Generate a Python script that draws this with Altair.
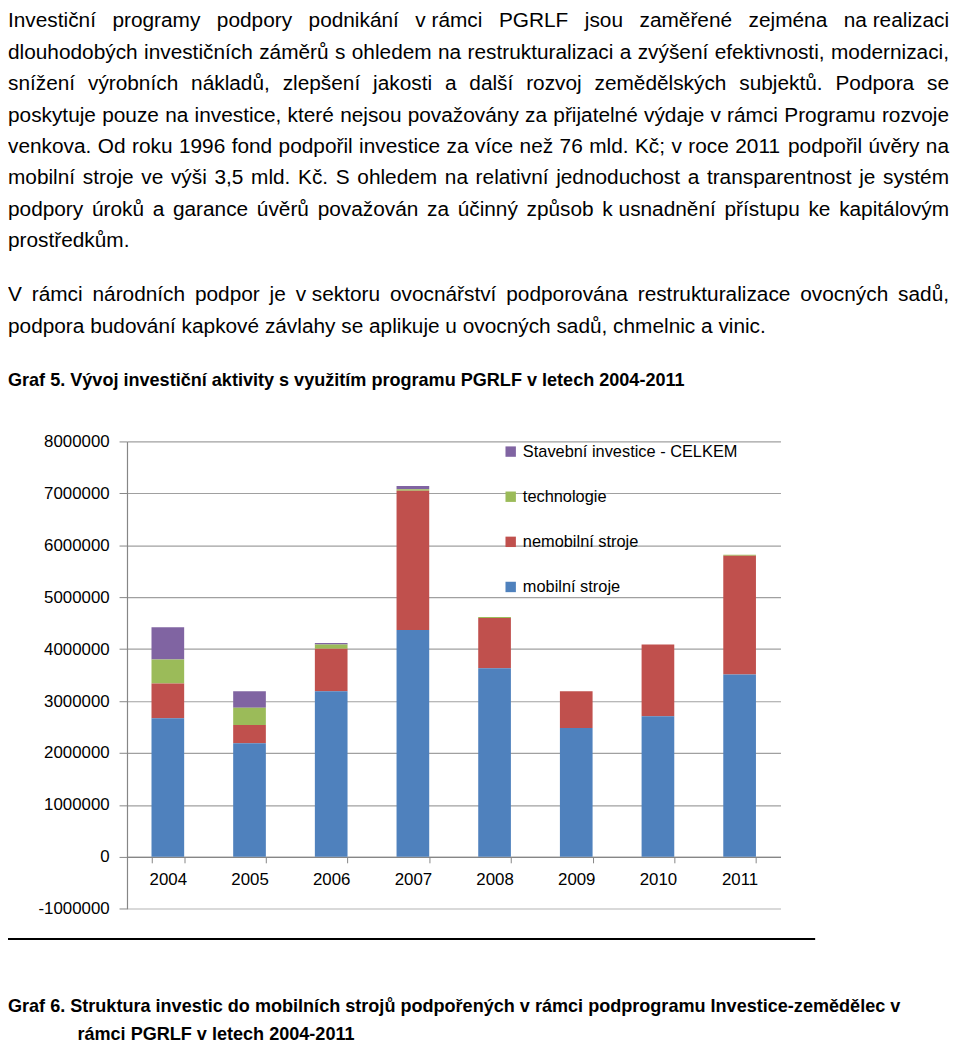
import unicodedata
import altair as alt
import pandas as pd

# ---------------- data ----------------
years = ["2004", "2005", "2006", "2007", "2008", "2009", "2010", "2011"]
mobilni = [2670000, 2190000, 3190000, 4370000, 3630000, 2480000, 2710000, 3510000]
nemobilni = [670000, 350000, 820000, 2680000, 970000, 710000, 1380000, 2290000]
technologie = [460000, 330000, 80000, 30000, 20000, 0, 0, 20000]
stavebni = [620000, 320000, 30000, 60000, 0, 0, 0, 0]
series_names = ["Stavební investice - CELKEM", "technologie", "nemobilní stroje", "mobilní stroje"]
series_colors = ["#8064A2", "#9BBB59", "#C0504D", "#4F81BD"]
y_ticks = [-1000000, 0, 1000000, 2000000, 3000000, 4000000, 5000000, 6000000, 7000000, 8000000]

paragraph1 = [
    "Investiční programy podpory podnikání v\u00a0rámci PGRLF jsou zaměřené zejména na\u00a0realizaci",
    "dlouhodobých investičních záměrů s ohledem na restrukturalizaci a zvýšení efektivnosti, modernizaci,",
    "snížení výrobních nákladů, zlepšení jakosti a další rozvoj zemědělských subjektů. Podpora se",
    "poskytuje pouze na investice, které nejsou považovány za přijatelné výdaje v rámci Programu rozvoje",
    "venkova. Od roku 1996 fond podpořil investice za více než 76 mld. Kč; v roce 2011 podpořil úvěry na",
    "mobilní stroje ve výši 3,5 mld. Kč. S ohledem na relativní jednoduchost a transparentnost je systém",
    "podpory úroků a garance úvěrů považován za účinný způsob k\u00a0usnadnění přístupu ke kapitálovým",
    "prostředkům.",
]
paragraph2 = [
    "V rámci národních podpor je v\u00a0sektoru ovocnářství podporována restrukturalizace ovocných sadů,",
    "podpora budování kapkové závlahy se aplikuje u ovocných sadů, chmelnic a vinic.",
]
caption5 = "Graf 5. Vývoj investiční aktivity s využitím programu PGRLF v letech 2004-2011"
caption6 = [
    "Graf 6. Struktura investic do mobilních strojů podpořených v rámci podprogramu Investice-zemědělec v",
    "rámci PGRLF v letech 2004-2011",
]

# ---------------- layout (page pixels) ----------------
FONT = "Liberation Sans"
TOTAL_W, TOTAL_H = 952, 1041
PLOT_LEFT, PLOT_TOP = 128, 440.7
PLOT_W, PLOT_H = 659, 471.3
TEXT_LEFT, TEXT_RIGHT = 8, 957

pad_l = PLOT_LEFT - 8
pad_t = PLOT_TOP - 8
padding = {"left": pad_l, "top": pad_t,
           "right": TOTAL_W - pad_l - PLOT_W,
           "bottom": TOTAL_H - pad_t - PLOT_H}


def rx(px):
    return px - PLOT_LEFT


def ry(py):
    return py - PLOT_TOP


# Arial / Liberation Sans advance widths (1/1000 em)
UP = "ABCDEFGHIJKLMNOPQRSTUVWXYZ"
LO = "abcdefghijklmnopqrstuvwxyz"
reg_up = [667, 667, 722, 722, 667, 611, 778, 722, 278, 500, 667, 556, 833, 722, 778, 667, 778, 722, 667, 611, 722, 667, 944, 667, 667, 611]
reg_lo = [556, 556, 500, 556, 556, 278, 556, 556, 222, 222, 500, 222, 833, 556, 556, 556, 556, 333, 500, 278, 556, 500, 722, 500, 500, 500]
bold_up = [722, 722, 722, 722, 667, 611, 778, 722, 278, 556, 722, 611, 833, 722, 778, 667, 778, 722, 667, 611, 722, 667, 944, 667, 667, 611]
bold_lo = [556, 611, 556, 611, 556, 333, 611, 611, 278, 278, 556, 278, 889, 611, 611, 611, 611, 389, 556, 333, 611, 556, 778, 556, 556, 500]
REG = dict(zip(UP, reg_up)); REG.update(zip(LO, reg_lo))
BOLD = dict(zip(UP, bold_up)); BOLD.update(zip(LO, bold_lo))
for d in (REG, BOLD):
    d.update({" ": 278, "\u00a0": 278, ",": 278, ".": 278, "-": 333, "í": 278})
    for c in "0123456789":
        d[c] = 556
REG.update({";": 278, ":": 278})
BOLD.update({";": 333, ":": 333})


def text_em(s, table):
    tot = 0
    for ch in s:
        if ch in table:
            tot += table[ch]
        else:
            tot += table.get(unicodedata.normalize("NFD", ch)[0], 556)
    return tot / 1000.0


line_w = TEXT_RIGHT - TEXT_LEFT
justified = paragraph1[:-1] + paragraph2[:-1]
fs_body = min([21.0] + [line_w / text_em(s, REG) for s in justified])

cap_w = 684
fs_cap = cap_w / text_em(caption5, BOLD)

left_rows, right_rows = [], []


def add_line(text, y_page, justify):
    words = text.split(" ")
    if not justify or len(words) == 1:
        left_rows.append({"x": rx(TEXT_LEFT), "y": ry(y_page), "t": text})
        return
    ws = [text_em(w, REG) * fs_body for w in words]
    gap = (line_w - sum(ws)) / (len(words) - 1)
    x = TEXT_LEFT
    for w, wd in zip(words[:-1], ws[:-1]):
        left_rows.append({"x": rx(x), "y": ry(y_page), "t": w})
        x += wd + gap
    right_rows.append({"x": rx(TEXT_RIGHT), "y": ry(y_page), "t": words[-1]})


for i, s in enumerate(paragraph1):
    add_line(s, 23 + i * 31.7, i < len(paragraph1) - 1)
for i, s in enumerate(paragraph2):
    add_line(s, 299 + i * 32, i < len(paragraph2) - 1)

cap_rows = [
    {"x": rx(TEXT_LEFT), "y": ry(385), "t": caption5},
    {"x": rx(TEXT_LEFT), "y": ry(1016), "t": caption6[0]},
    {"x": rx(78), "y": ry(1044.5), "t": caption6[1]},
]


def text_layer(rows, align, bold, size):
    return alt.Chart(pd.DataFrame(rows)).mark_text(
        align=align, baseline="alphabetic", font=FONT, fontSize=size,
        fontWeight="bold" if bold else "normal", color="#000000"
    ).encode(
        x=alt.X("x:Q", scale=None, axis=None),
        y=alt.Y("y:Q", scale=None, axis=None),
        text="t:N",
    )


# ---------------- bars ----------------
rows = []
for s_i, (name, vals) in enumerate(zip(series_names, [stavebni, technologie, nemobilni, mobilni])):
    for yr, v in zip(years, vals):
        if v > 0:
            rows.append({"year": yr, "series": name, "value": v, "ord": 3 - s_i})
df = pd.DataFrame(rows)

grid_color = {"condition": {"test": "datum.value === -1000000", "value": "#d9d9d9"}, "value": "#a0a0a0"}
grid_width = {"condition": {"test": "datum.value === -1000000", "value": 2}, "value": 1.2}

bars = alt.Chart(df).mark_bar().encode(
    x=alt.X("year:N", sort=years,
            scale=alt.Scale(paddingInner=0.6, paddingOuter=0.3),
            axis=alt.Axis(title=None, labelAngle=0, offset=-PLOT_H / 9, tickBand="extent",
                          tickSize=6, tickColor="#868686", domainColor="#868686", domainWidth=1.2,
                          labelPadding=9, labelFontSize=17, labelFont=FONT, labelColor="#000000",
                          grid=False)),
    y=alt.Y("value:Q", stack="zero",
            scale=alt.Scale(domain=[-1000000, 8000000], nice=False, zero=False),
            axis=alt.Axis(title=None, values=y_ticks, labelExpr="'' + datum.value",
                          grid=True, gridColor=grid_color, gridWidth=grid_width,
                          domainColor="#868686", domainWidth=1.2, tickColor="#868686",
                          tickSize=8, labelPadding=10, labelFontSize=17, labelFont=FONT,
                          labelColor="#000000")),
    color=alt.Color("series:N",
                    scale=alt.Scale(domain=series_names, range=series_colors),
                    legend=alt.Legend(orient="none", legendX=378.7, legendY=2, title=None,
                                      symbolType="square", symbolSize=110, symbolStrokeWidth=0,
                                      labelFontSize=16.5, labelFont=FONT, labelColor="#000000",
                                      labelLimit=0, rowPadding=28.5, labelOffset=4, padding=0)),
    order=alt.Order("ord:Q", sort="ascending"),
)

rule = alt.Chart(pd.DataFrame({"k": [0]})).mark_rule(color="#000000", strokeWidth=2).encode(
    x=alt.value(rx(TEXT_LEFT)), x2=alt.value(rx(822)), y=alt.value(ry(942.5))
)

chart = alt.layer(
    bars,
    rule,
    text_layer(left_rows, "left", False, fs_body),
    text_layer(right_rows, "right", False, fs_body),
    text_layer(cap_rows, "left", True, fs_cap),
).resolve_scale(x="independent", y="independent").properties(
    width=PLOT_W, height=PLOT_H, padding=padding,
    autosize=alt.AutoSizeParams(type="none"),
    background="white",
).configure_view(stroke=None)

chart.save("out.html", embed_options={"renderer": "svg", "actions": False})
